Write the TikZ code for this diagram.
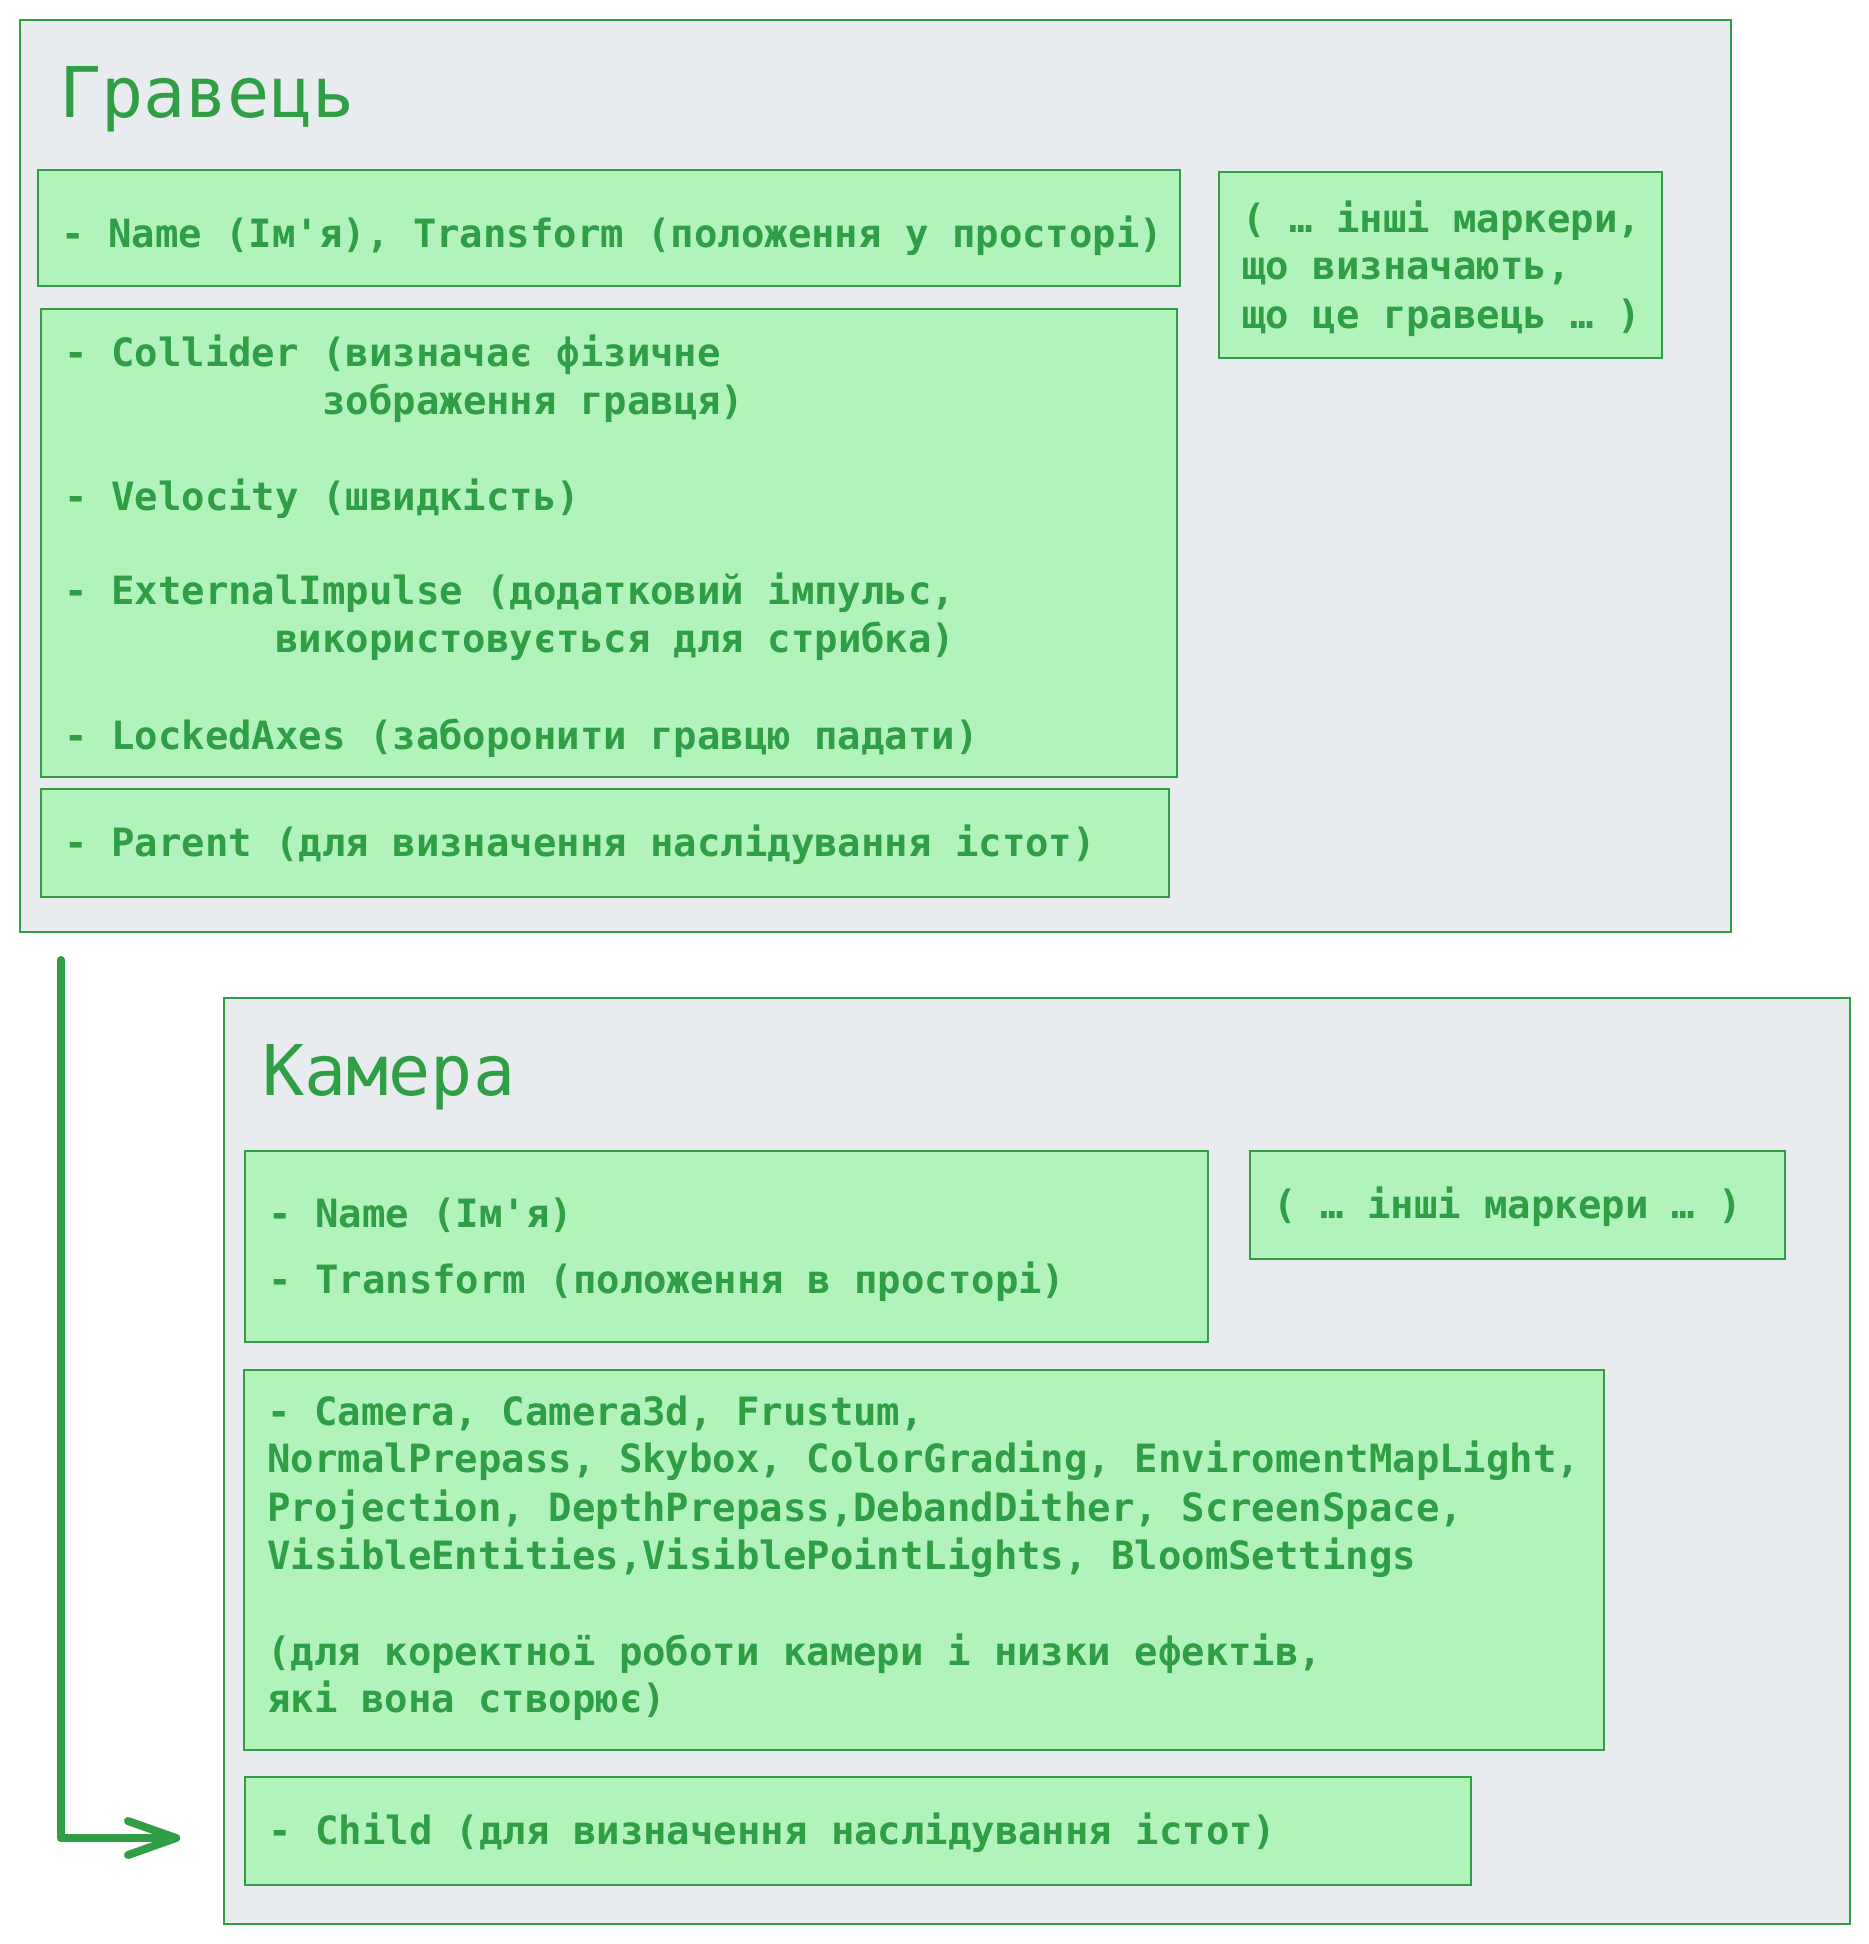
\documentclass[tikz,border=0pt]{standalone}
\usepackage{fontspec}
\setmonofont{DejaVu Sans Mono}
\usetikzlibrary{fit,calc}
\definecolor{grn}{HTML}{2F9E44}
\definecolor{lgrn}{HTML}{B2F2BB}
\definecolor{gry}{HTML}{E9ECEF}
\newcommand{\bodyf}{\ttfamily\bfseries\fontsize{19.47}{24}\selectfont}
\newcommand{\titlef}{\ttfamily\fontsize{35}{42}\selectfont}
\tikzset{
  outerbox/.style={draw=grn, fill=gry, line width=1pt, inner sep=0pt},
  innerbox/.style={draw=grn, fill=lgrn, line width=1pt, inner sep=0pt},
  txt/.style={anchor=base west, inner sep=0pt, text=grn, font=\bodyf},
  ttl/.style={anchor=base west, inner sep=0pt, text=grn, font=\titlef},
  conn/.style={draw=grn, line width=4pt, line cap=round, line join=round},
}
\begin{document}
\begin{tikzpicture}[x=0.5pt,y=-0.5pt]
\useasboundingbox[fill=white] (0,0) rectangle (1869,1944);

% ---------- Player ----------
\node[outerbox, fit={(20,20) (1731,932)}] (player) {};
\node[ttl] (playerT) at (59,117) {Гравець};

\node[innerbox, fit={(38,170) (1180,286)}] (pA) {};
\node[txt] (pA1) at (61,247) {- Name (Ім'я), Transform (положення у просторі)};

\node[innerbox, fit={(41,309) (1177,777)}] (pB) {};
\node[txt] (pB1) at (64,366) {- Collider (визначає фізичне};
\node[txt] (pB2) at (322,414) {зображення гравця)};
\node[txt] (pB3) at (64,510) {- Velocity (швидкість)};
\node[txt] (pB4) at (64,604) {- ExternalImpulse (додатковий імпульс,};
\node[txt] (pB5) at (275,652) {використовується для стрибка)};
\node[txt] (pB6) at (64,749) {- LockedAxes (заборонити гравцю падати)};

\node[innerbox, fit={(41,789) (1169,897)}] (pC) {};
\node[txt] (pC1) at (64,856) {- Parent (для визначення наслідування істот)};

\node[innerbox, fit={(1219,172) (1662,358)}] (pD) {};
\node[txt] (pD1) at (1242,232) {( … інші маркери,};
\node[txt] (pD2) at (1242,279) {що визначають,};
\node[txt] (pD3) at (1242,328) {що це гравець … )};

% ---------- Camera ----------
\node[outerbox, fit={(224,998) (1850,1924)}] (camera) {};
\node[ttl] (cameraT) at (262,1095) {Камера};

\node[innerbox, fit={(245,1151) (1208,1342)}] (cE) {};
\node[txt] (cE1) at (268,1227) {- Name (Ім'я)};
\node[txt] (cE2) at (268,1293) {- Transform (положення в просторі)};

\node[innerbox, fit={(1250,1151) (1785,1259)}] (cF) {};
\node[txt] (cF1) at (1273,1218) {( … інші маркери … )};

\node[innerbox, fit={(244,1370) (1604,1750)}] (cG) {};
\node[txt] (cG1) at (267,1425) {- Camera, Camera3d, Frustum,};
\node[txt] (cG2) at (267,1472) {NormalPrepass, Skybox, ColorGrading, EnviromentMapLight,};
\node[txt] (cG3) at (267,1521) {Projection, DepthPrepass,DebandDither, ScreenSpace,};
\node[txt] (cG4) at (267,1569) {VisibleEntities,VisiblePointLights, BloomSettings};
\node[txt] (cG5) at (267,1665) {(для коректної роботи камери і низки ефектів,};
\node[txt] (cG6) at (267,1712) {які вона створює)};

\node[innerbox, fit={(245,1777) (1471,1885)}] (cH) {};
\node[txt] (cH1) at (268,1844) {- Child (для визначення наслідування істот)};

% ---------- connector ----------
\coordinate (arrS) at (61,960);
\coordinate (arrT) at (176,1838);
\draw[conn] (arrS) |- (arrT);
\draw[conn] ($(arrT)+(-48,-17)$) -- (arrT) -- ($(arrT)+(-48,17)$);
\end{tikzpicture}
\end{document}
